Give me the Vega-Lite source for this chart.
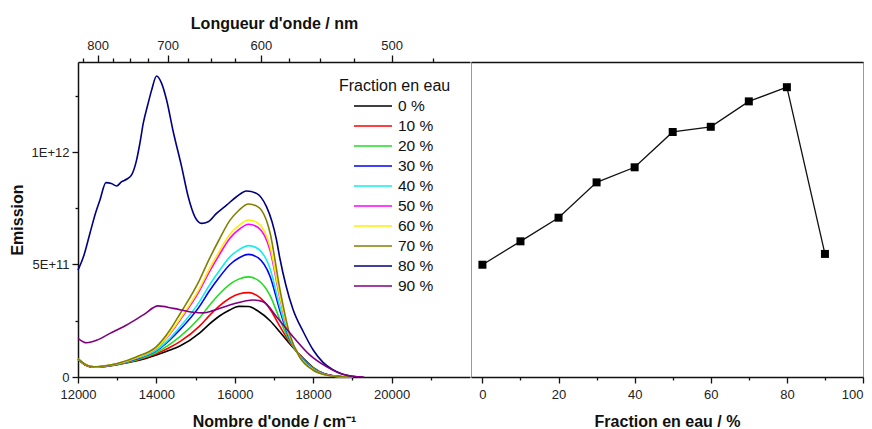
{
"$schema": "https://vega.github.io/schema/vega-lite/v6.json",
"padding": {"left": 9, "top": 15, "right": 0, "bottom": 0},
"spacing": 0,
"config": {"font": "Liberation Sans", "view": {"stroke": null},
  "axis": {"labelFontSize": 13, "labelColor": "#222", "labelFlush": false, "titleFontSize": 16, "titleFontWeight": "bold", "titleColor": "#111", "domainColor": "#111", "domainWidth": 1.5, "tickColor": "#111", "tickWidth": 1.3, "grid": false}},
"datasets": {
"spec": [
{"f":"0 %","x":12000,"y":0.78e11},{"f":"0 %","x":12200,"y":0.52e11},{"f":"0 %","x":12400,"y":0.44e11},{"f":"0 %","x":12700,"y":0.47e11},{"f":"0 %","x":13000,"y":0.55e11},{"f":"0 %","x":13500,"y":0.72e11},{"f":"0 %","x":14000,"y":0.98e11},{"f":"0 %","x":14350,"y":1.2e11},{"f":"0 %","x":14600,"y":1.38e11},{"f":"0 %","x":15100,"y":1.95e11},{"f":"0 %","x":15350,"y":2.35e11},{"f":"0 %","x":15600,"y":2.7e11},{"f":"0 %","x":15870,"y":2.98e11},{"f":"0 %","x":16100,"y":3.14e11},{"f":"0 %","x":16350,"y":3.13e11},{"f":"0 %","x":16600,"y":2.92e11},{"f":"0 %","x":16900,"y":2.5e11},{"f":"0 %","x":17150,"y":2.0e11},{"f":"0 %","x":17400,"y":1.48e11},{"f":"0 %","x":17650,"y":1.0e11},{"f":"0 %","x":18000,"y":0.42e11},{"f":"0 %","x":18300,"y":0.13e11},{"f":"0 %","x":18600,"y":0.03e11},{"f":"0 %","x":19000,"y":0},
{"f":"10 %","x":12000,"y":0.79e11},{"f":"10 %","x":12200,"y":0.52e11},{"f":"10 %","x":12400,"y":0.44e11},{"f":"10 %","x":12700,"y":0.47e11},{"f":"10 %","x":13000,"y":0.56e11},{"f":"10 %","x":13500,"y":0.74e11},{"f":"10 %","x":14000,"y":1.03e11},{"f":"10 %","x":14350,"y":1.32e11},{"f":"10 %","x":14600,"y":1.57e11},{"f":"10 %","x":15100,"y":2.26e11},{"f":"10 %","x":15350,"y":2.73e11},{"f":"10 %","x":15600,"y":3.15e11},{"f":"10 %","x":15870,"y":3.5e11},{"f":"10 %","x":16100,"y":3.69e11},{"f":"10 %","x":16350,"y":3.75e11},{"f":"10 %","x":16600,"y":3.58e11},{"f":"10 %","x":16900,"y":3.01e11},{"f":"10 %","x":17150,"y":2.25e11},{"f":"10 %","x":17400,"y":1.54e11},{"f":"10 %","x":17650,"y":0.99e11},{"f":"10 %","x":18000,"y":0.4e11},{"f":"10 %","x":18300,"y":0.13e11},{"f":"10 %","x":18600,"y":0.03e11},{"f":"10 %","x":19000,"y":0},
{"f":"20 %","x":12000,"y":0.79e11},{"f":"20 %","x":12200,"y":0.53e11},{"f":"20 %","x":12400,"y":0.44e11},{"f":"20 %","x":12700,"y":0.48e11},{"f":"20 %","x":13000,"y":0.56e11},{"f":"20 %","x":13500,"y":0.77e11},{"f":"20 %","x":14000,"y":1.09e11},{"f":"20 %","x":14350,"y":1.46e11},{"f":"20 %","x":14600,"y":1.79e11},{"f":"20 %","x":15100,"y":2.63e11},{"f":"20 %","x":15350,"y":3.18e11},{"f":"20 %","x":15600,"y":3.68e11},{"f":"20 %","x":15870,"y":4.12e11},{"f":"20 %","x":16100,"y":4.35e11},{"f":"20 %","x":16350,"y":4.45e11},{"f":"20 %","x":16600,"y":4.29e11},{"f":"20 %","x":16900,"y":3.62e11},{"f":"20 %","x":17150,"y":2.55e11},{"f":"20 %","x":17400,"y":1.6e11},{"f":"20 %","x":17650,"y":0.97e11},{"f":"20 %","x":18000,"y":0.39e11},{"f":"20 %","x":18300,"y":0.12e11},{"f":"20 %","x":18600,"y":0.03e11},{"f":"20 %","x":19000,"y":0},
{"f":"30 %","x":12000,"y":0.8e11},{"f":"30 %","x":12200,"y":0.54e11},{"f":"30 %","x":12400,"y":0.45e11},{"f":"30 %","x":12700,"y":0.49e11},{"f":"30 %","x":13000,"y":0.58e11},{"f":"30 %","x":13500,"y":0.81e11},{"f":"30 %","x":14000,"y":1.17e11},{"f":"30 %","x":14350,"y":1.66e11},{"f":"30 %","x":14600,"y":2.1e11},{"f":"30 %","x":15100,"y":3.14e11},{"f":"30 %","x":15350,"y":3.82e11},{"f":"30 %","x":15600,"y":4.42e11},{"f":"30 %","x":15870,"y":4.99e11},{"f":"30 %","x":16100,"y":5.29e11},{"f":"30 %","x":16350,"y":5.45e11},{"f":"30 %","x":16600,"y":5.29e11},{"f":"30 %","x":16900,"y":4.47e11},{"f":"30 %","x":17150,"y":2.96e11},{"f":"30 %","x":17400,"y":1.69e11},{"f":"30 %","x":17650,"y":0.95e11},{"f":"30 %","x":18000,"y":0.36e11},{"f":"30 %","x":18300,"y":0.12e11},{"f":"30 %","x":18600,"y":0.03e11},{"f":"30 %","x":19000,"y":0},
{"f":"40 %","x":12000,"y":0.8e11},{"f":"40 %","x":12200,"y":0.54e11},{"f":"40 %","x":12400,"y":0.45e11},{"f":"40 %","x":12700,"y":0.49e11},{"f":"40 %","x":13000,"y":0.58e11},{"f":"40 %","x":13500,"y":0.83e11},{"f":"40 %","x":14000,"y":1.2e11},{"f":"40 %","x":14350,"y":1.73e11},{"f":"40 %","x":14600,"y":2.22e11},{"f":"40 %","x":15100,"y":3.35e11},{"f":"40 %","x":15350,"y":4.07e11},{"f":"40 %","x":15600,"y":4.71e11},{"f":"40 %","x":15870,"y":5.33e11},{"f":"40 %","x":16100,"y":5.65e11},{"f":"40 %","x":16350,"y":5.84e11},{"f":"40 %","x":16600,"y":5.69e11},{"f":"40 %","x":16900,"y":4.81e11},{"f":"40 %","x":17150,"y":3.12e11},{"f":"40 %","x":17400,"y":1.73e11},{"f":"40 %","x":17650,"y":0.94e11},{"f":"40 %","x":18000,"y":0.35e11},{"f":"40 %","x":18300,"y":0.11e11},{"f":"40 %","x":18600,"y":0.02e11},{"f":"40 %","x":19000,"y":0},
{"f":"50 %","x":12000,"y":0.81e11},{"f":"50 %","x":12200,"y":0.54e11},{"f":"50 %","x":12400,"y":0.45e11},{"f":"50 %","x":12700,"y":0.49e11},{"f":"50 %","x":13000,"y":0.59e11},{"f":"50 %","x":13500,"y":0.86e11},{"f":"50 %","x":14000,"y":1.28e11},{"f":"50 %","x":14350,"y":1.92e11},{"f":"50 %","x":14600,"y":2.52e11},{"f":"50 %","x":15100,"y":3.84e11},{"f":"50 %","x":15350,"y":4.67e11},{"f":"50 %","x":15600,"y":5.42e11},{"f":"50 %","x":15870,"y":6.16e11},{"f":"50 %","x":16100,"y":6.55e11},{"f":"50 %","x":16350,"y":6.79e11},{"f":"50 %","x":16600,"y":6.64e11},{"f":"50 %","x":16900,"y":5.62e11},{"f":"50 %","x":17150,"y":3.52e11},{"f":"50 %","x":17400,"y":1.82e11},{"f":"50 %","x":17650,"y":0.92e11},{"f":"50 %","x":18000,"y":0.32e11},{"f":"50 %","x":18300,"y":0.11e11},{"f":"50 %","x":18600,"y":0.02e11},{"f":"50 %","x":19000,"y":0},
{"f":"60 %","x":12000,"y":0.81e11},{"f":"60 %","x":12200,"y":0.55e11},{"f":"60 %","x":12400,"y":0.45e11},{"f":"60 %","x":12700,"y":0.5e11},{"f":"60 %","x":13000,"y":0.59e11},{"f":"60 %","x":13500,"y":0.87e11},{"f":"60 %","x":14000,"y":1.29e11},{"f":"60 %","x":14350,"y":1.96e11},{"f":"60 %","x":14600,"y":2.58e11},{"f":"60 %","x":15100,"y":3.94e11},{"f":"60 %","x":15350,"y":4.8e11},{"f":"60 %","x":15600,"y":5.57e11},{"f":"60 %","x":15870,"y":6.33e11},{"f":"60 %","x":16100,"y":6.73e11},{"f":"60 %","x":16350,"y":6.98e11},{"f":"60 %","x":16600,"y":6.83e11},{"f":"60 %","x":16900,"y":5.79e11},{"f":"60 %","x":17150,"y":3.6e11},{"f":"60 %","x":17400,"y":1.83e11},{"f":"60 %","x":17650,"y":0.92e11},{"f":"60 %","x":18000,"y":0.32e11},{"f":"60 %","x":18300,"y":0.1e11},{"f":"60 %","x":18600,"y":0.02e11},{"f":"60 %","x":19000,"y":0},
{"f":"70 %","x":12000,"y":0.82e11},{"f":"70 %","x":12200,"y":0.55e11},{"f":"70 %","x":12400,"y":0.45e11},{"f":"70 %","x":12700,"y":0.5e11},{"f":"70 %","x":13000,"y":0.6e11},{"f":"70 %","x":13500,"y":0.9e11},{"f":"70 %","x":14000,"y":1.35e11},{"f":"70 %","x":14350,"y":2.1e11},{"f":"70 %","x":14600,"y":2.8e11},{"f":"70 %","x":15100,"y":4.31e11},{"f":"70 %","x":15350,"y":5.25e11},{"f":"70 %","x":15600,"y":6.1e11},{"f":"70 %","x":15870,"y":6.95e11},{"f":"70 %","x":16100,"y":7.4e11},{"f":"70 %","x":16350,"y":7.69e11},{"f":"70 %","x":16600,"y":7.55e11},{"f":"70 %","x":16900,"y":6.4e11},{"f":"70 %","x":17150,"y":3.9e11},{"f":"70 %","x":17400,"y":1.9e11},{"f":"70 %","x":17650,"y":0.9e11},{"f":"70 %","x":18000,"y":0.3e11},{"f":"70 %","x":18300,"y":0.1e11},{"f":"70 %","x":18600,"y":0.02e11},{"f":"70 %","x":19000,"y":0},
{"f":"80 %","x":12000,"y":4.75e11},{"f":"80 %","x":12150,"y":5.4e11},{"f":"80 %","x":12305,"y":6.39e11},{"f":"80 %","x":12450,"y":7.3e11},{"f":"80 %","x":12560,"y":7.87e11},{"f":"80 %","x":12713,"y":8.64e11},{"f":"80 %","x":12850,"y":8.6e11},{"f":"80 %","x":12985,"y":8.49e11},{"f":"80 %","x":13112,"y":8.68e11},{"f":"80 %","x":13250,"y":8.8e11},{"f":"80 %","x":13367,"y":8.98e11},{"f":"80 %","x":13494,"y":9.64e11},{"f":"80 %","x":13580,"y":10.4e11},{"f":"80 %","x":13664,"y":11.27e11},{"f":"80 %","x":13780,"y":12.1e11},{"f":"80 %","x":13878,"y":12.75e11},{"f":"80 %","x":14005,"y":13.38e11},{"f":"80 %","x":14133,"y":13.05e11},{"f":"80 %","x":14260,"y":12.31e11},{"f":"80 %","x":14430,"y":10.9e11},{"f":"80 %","x":14643,"y":9.35e11},{"f":"80 %","x":14812,"y":8.01e11},{"f":"80 %","x":14982,"y":7.12e11},{"f":"80 %","x":15152,"y":6.83e11},{"f":"80 %","x":15322,"y":6.9e11},{"f":"80 %","x":15534,"y":7.27e11},{"f":"80 %","x":15789,"y":7.64e11},{"f":"80 %","x":16044,"y":8.01e11},{"f":"80 %","x":16299,"y":8.27e11},{"f":"80 %","x":16554,"y":8.16e11},{"f":"80 %","x":16808,"y":7.57e11},{"f":"80 %","x":16950,"y":6.9e11},{"f":"80 %","x":17063,"y":6.1e11},{"f":"80 %","x":17147,"y":5.3e11},{"f":"80 %","x":17300,"y":4.1e11},{"f":"80 %","x":17486,"y":3.0e11},{"f":"80 %","x":17750,"y":2.0e11},{"f":"80 %","x":18000,"y":1.2e11},{"f":"80 %","x":18250,"y":0.65e11},{"f":"80 %","x":18500,"y":0.32e11},{"f":"80 %","x":18750,"y":0.12e11},{"f":"80 %","x":19000,"y":0.03e11},{"f":"80 %","x":19250,"y":0},
{"f":"90 %","x":12000,"y":1.72e11},{"f":"90 %","x":12220,"y":1.52e11},{"f":"90 %","x":12500,"y":1.65e11},{"f":"90 %","x":12815,"y":1.94e11},{"f":"90 %","x":13240,"y":2.31e11},{"f":"90 %","x":13664,"y":2.76e11},{"f":"90 %","x":14046,"y":3.16e11},{"f":"90 %","x":14430,"y":3.05e11},{"f":"90 %","x":14938,"y":2.88e11},{"f":"90 %","x":15200,"y":2.85e11},{"f":"90 %","x":15447,"y":2.95e11},{"f":"90 %","x":15957,"y":3.24e11},{"f":"90 %","x":16467,"y":3.42e11},{"f":"90 %","x":16722,"y":3.35e11},{"f":"90 %","x":17063,"y":2.68e11},{"f":"90 %","x":17486,"y":1.79e11},{"f":"90 %","x":17911,"y":0.98e11},{"f":"90 %","x":18336,"y":0.46e11},{"f":"90 %","x":18760,"y":0.12e11},{"f":"90 %","x":19015,"y":0.03e11},{"f":"90 %","x":19300,"y":0}
],
"peak": [
{"frac":0,"em":4.99e11},{"frac":10,"em":6.03e11},{"frac":20,"em":7.08e11},{"frac":30,"em":8.65e11},{"frac":40,"em":9.32e11},{"frac":50,"em":10.89e11},{"frac":60,"em":11.12e11},{"frac":70,"em":12.25e11},{"frac":80,"em":12.88e11},{"frac":90,"em":5.47e11}
]
},
"hconcat": [
{
 "width": 392, "height": 315,
 "data": {"name": "spec"},
 "layer": [
  {"mark": {"type": "line", "strokeWidth": 1.6, "interpolate": "monotone"},
   "encoding": {
    "x": {"field": "x", "type": "quantitative", "scale": {"domain": [12000, 22000], "nice": false, "zero": false},
      "axis": {"orient": "bottom", "title": "Nombre d'onde / cm⁻¹", "values": [12000,13000,14000,15000,16000,17000,18000,19000,20000,21000],
        "labelExpr": "datum.value % 2000 === 0 ? '' + datum.value : ''",
        "tickSize": {"condition": {"test": "datum.value % 2000 === 0", "value": 6}, "value": 3},
        "labelPadding": 5, "titlePadding": 12}},
    "y": {"field": "y", "type": "quantitative", "scale": {"domain": [0, 1.4e12], "nice": false},
      "axis": {"title": "Emission", "values": [0, 2.5e11, 5e11, 7.5e11, 1e12, 1.25e12],
        "labelExpr": "datum.value === 0 ? '0' : datum.value === 5e11 ? '5E+11' : datum.value === 1e12 ? '1E+12' : ''",
        "tickSize": {"condition": {"test": "datum.value % 5e11 === 0", "value": 6}, "value": 3},
        "labelPadding": 3, "titlePadding": 6}},
    "color": {"field": "f", "type": "nominal",
      "scale": {"domain": ["0 %","10 %","20 %","30 %","40 %","50 %","60 %","70 %","80 %","90 %"],
                "range": ["#000000","#ff0000","#22dd22","#0000ff","#11eeee","#ff00ff","#ffee00","#808000","#000080","#800080"]},
      "legend": {"title": "Fraction en eau", "orient": "none", "legendX": 261, "legendY": 16,
        "symbolType": "stroke", "symbolSize": 1444, "symbolStrokeWidth": 1.5, "symbolOffset": 14,
        "clipHeight": 20, "rowPadding": 0, "labelFontSize": 15.5, "labelColor": "#111", "labelOffset": 5,
        "titleFontSize": 16, "titleFontWeight": "normal", "titleColor": "#111", "titlePadding": 2}}
   }},
  {"mark": {"type": "point", "opacity": 0},
   "encoding": {
    "x": {"field": "x", "type": "quantitative",
      "axis": {"orient": "top", "title": "Longueur d'onde / nm",
        "values": [12121.21, 12500, 12903.23, 13333.33, 13793.10, 14285.71, 14814.81, 15384.62, 16000, 16666.67, 17391.30, 18181.82, 19047.62, 20000, 21052.63],
        "labelExpr": "round(1e7/datum.value) % 100 === 0 ? '' + round(1e7/datum.value) : ''",
        "tickSize": {"condition": {"test": "round(1e7/datum.value) % 100 === 0", "value": 7}, "value": 4},
        "labelPadding": 3, "titlePadding": 8}}
   }}
 ],
 "resolve": {"axis": {"x": "independent"}}
},
{
 "width": 392, "height": 315,
 "data": {"name": "peak"},
 "view": {"stroke": "#999", "strokeWidth": 1},
 "layer": [
  {"mark": {"type": "line", "color": "#111", "strokeWidth": 1.3},
   "encoding": {
    "x": {"field": "frac", "type": "quantitative", "title": "Fraction en eau / %", "scale": {"domain": [-3, 100], "nice": false, "zero": false},
      "axis": {"orient": "bottom", "values": [0,10,20,30,40,50,60,70,80,90,100],
        "labelExpr": "datum.value % 20 === 0 ? '' + datum.value : ''",
        "labelAlign": {"condition": {"test": "datum.value === 100", "value": "right"}, "value": "center"},
        "tickSize": {"condition": {"test": "datum.value % 20 === 0", "value": 6}, "value": 3},
        "labelPadding": 5, "titlePadding": 12}},
    "y": {"field": "em", "type": "quantitative", "title": null, "scale": {"domain": [0, 1.4e12], "nice": false},
      "axis": {"orient": "right", "labels": false, "ticks": false, "title": null}}
   }},
  {"mark": {"type": "point", "shape": "square", "filled": true, "color": "#000", "size": 64, "opacity": 1},
   "encoding": {
    "x": {"field": "frac", "type": "quantitative", "axis": null},
    "y": {"field": "em", "type": "quantitative", "axis": null}
   }},
  {"mark": {"type": "point", "opacity": 0},
   "encoding": {
    "x": {"field": "frac", "type": "quantitative", "axis": {"orient": "top", "labels": false, "ticks": false, "title": null}}
   }}
 ],
 "resolve": {"axis": {"x": "independent"}}
}
]
}
